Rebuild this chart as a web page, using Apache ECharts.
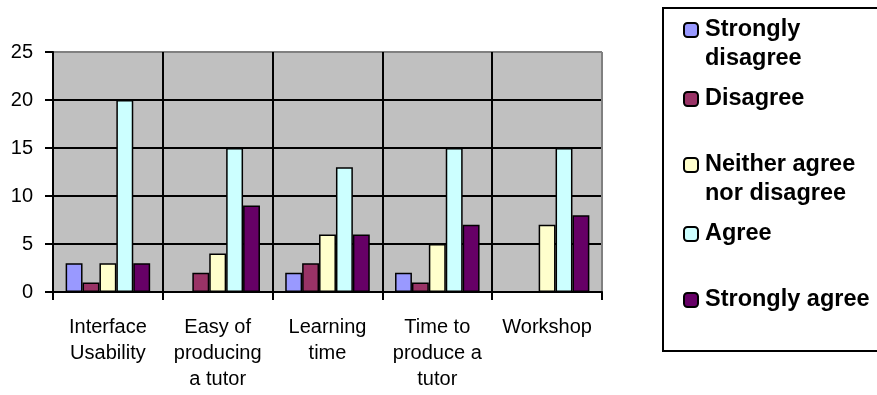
<!DOCTYPE html>
<html>
<head>
<meta charset="utf-8">
<script src="https://cdn.jsdelivr.net/npm/echarts@6/dist/echarts.min.js"></script>
<style>
  html, body { margin: 0; padding: 0; background: #fff; }
  #chart { width: 877px; height: 395px; }
</style>
</head>
<body>
<div id="chart"></div>
<script>
// survey answers per question
const categories = ['Interface\nUsability', 'Easy of\nproducing\na tutor', 'Learning\ntime', 'Time to\nproduce a\ntutor', 'Workshop']
const seriesNames = ['Strongly disagree', 'Disagree', 'Neither agree nor disagree', 'Agree', 'Strongly agree']
const stronglyDisagree = [3, 0, 2, 2, 0]
const disagree = [1, 2, 3, 1, 0]
const neither = [3, 4, 6, 5, 7]
const agree = [20, 15, 13, 15, 15]
const stronglyAgree = [3, 9, 6, 7, 8]
const yTicks = [0, 5, 10, 15, 20, 25]

const values = [stronglyDisagree, disagree, neither, agree, stronglyAgree]
const colors = ['#9999FF', '#993366', '#FFFFCC', '#CCFFFF', '#660066']
// legend labels as broken in the original, and where each first line sits
const legendLabels = ['Strongly\ndisagree', 'Disagree', 'Neither agree\nnor disagree', 'Agree', 'Strongly agree']
const legendCenters = [30, 99, 165, 234, 300]

const FONT = '"Liberation Sans", Arial, sans-serif'
const LH = 29

const chart = echarts.init(document.getElementById('chart'), null, { renderer: 'canvas' })

// one legend per entry so the uneven spacing of the original can be kept;
// a blank leading line keeps the icon level with the first text line
const legends = seriesNames.map((name, i) => {
  const twoLines = legendLabels[i].includes('\n')
  return {
    data: [name],
    left: 683,
    top: legendCenters[i] - LH / 2 - (twoLines ? LH : 0),
    padding: 0,
    itemWidth: 14,
    itemHeight: 14,
    selectedMode: false,
    formatter: () => (twoLines ? '\n' : '') + legendLabels[i],
    textStyle: {
      color: '#000', fontFamily: FONT, fontWeight: 'bold', fontSize: 23.5,
      lineHeight: LH, padding: [0, 0, 0, 2],
    },
  }
})

chart.setOption({
  backgroundColor: '#fff',
  animation: false,
  grid: {
    left: 53, right: 275, top: 52, bottom: 103,
    show: true, backgroundColor: '#C0C0C0', borderWidth: 0,
  },
  legend: legends,
  graphic: [{
    type: 'rect', z: -10, silent: true,
    shape: { x: 663, y: 8, width: 300, height: 343 },
    style: { fill: '#fff', stroke: '#000', lineWidth: 2 },
  }],
  xAxis: {
    type: 'category', data: categories,
    axisLine: { lineStyle: { color: '#000', width: 2 } },
    axisTick: { show: true, interval: 0, length: 8, lineStyle: { color: '#000', width: 2 } },
    splitLine: { show: true, interval: 0, lineStyle: { color: ['#000', '#000', '#000', '#000', '#000', '#808080'], width: 2 } },
    axisLabel: { interval: 0, color: '#000', fontFamily: FONT, fontSize: 20, lineHeight: 26, margin: 22 },
  },
  yAxis: {
    type: 'value', min: yTicks[0], max: yTicks[yTicks.length - 1], interval: 5,
    axisLine: { show: true, lineStyle: { color: '#000', width: 2 } },
    axisTick: { show: true, length: 8, lineStyle: { color: '#000', width: 2 } },
    splitLine: { lineStyle: { color: ['#000', '#000', '#000', '#000', '#000', '#808080'], width: 2 } },
    axisLabel: { color: '#000', fontFamily: FONT, fontSize: 20, margin: 20 },
  },
  series: seriesNames.map((name, i) => ({
    name, type: 'bar', data: values[i],
    barGap: '0%', barCategoryGap: '23%',
    itemStyle: { color: colors[i], borderColor: '#000', borderWidth: 1.5 },
  })),
})
</script>
</body>
</html>
